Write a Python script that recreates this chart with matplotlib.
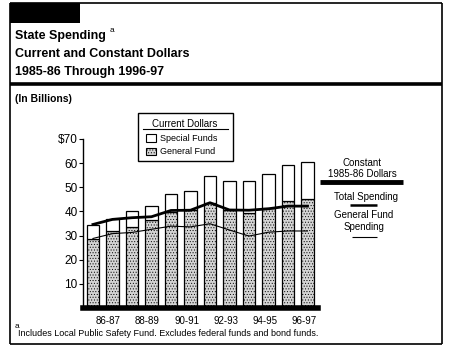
import matplotlib
matplotlib.use("Agg")
import matplotlib.pyplot as plt
from matplotlib.lines import Line2D
from matplotlib.patches import Rectangle
import numpy as np

plt.rcParams['font.family'] = ['Liberation Sans', 'DejaVu Sans']
plt.rcParams['hatch.linewidth'] = 0.4

years = ["85-86", "86-87", "87-88", "88-89", "89-90", "90-91",
         "91-92", "92-93", "93-94", "94-95", "95-96", "96-97"]
general_fund = [28.7, 31.9, 33.4, 36.4, 39.7, 40.5, 43.6, 40.7, 39.2, 41.5, 44.3, 45.0]
total_current = [34.2, 36.9, 40.1, 42.1, 47.2, 48.5, 54.5, 52.4, 52.4, 55.4, 59.2, 60.3]
special_funds = [t - g for t, g in zip(total_current, general_fund)]
constant_total = [34.6, 36.7, 37.4, 37.8, 40.4, 40.5, 43.6, 40.6, 40.5, 41.1, 42.2, 42.2]
constant_gf = [28.8, 30.8, 31.3, 32.6, 33.9, 33.6, 34.9, 32.3, 29.8, 31.4, 31.9, 31.9]
yticks = [10, 20, 30, 40, 50, 60, 70]
ytick_labels = ["10", "20", "30", "40", "50", "60", "$70"]
xtick_labels = ["86-87", "88-89", "90-91", "92-93", "94-95", "96-97"]

W, H = 451, 350
fig = plt.figure(figsize=(W / 100, H / 100), dpi=100)

def fx(px):
    return px / W

def fy(py):
    return 1 - py / H

# frame
fig.add_artist(Rectangle((fx(10), fy(23)), fx(70), 20 / H, transform=fig.transFigure,
                         facecolor='black', edgecolor='none'))
for (x0, y0, x1, y1, lw) in [(10, 3, 442, 3, 1.2), (442, 3, 442, 344, 1.2),
                              (10, 344, 442, 344, 1.2), (10, 3, 10, 344, 1.2),
                              (10, 84, 442, 84, 2.6)]:
    fig.add_artist(Line2D([fx(x0), fx(x1)], [fy(y0), fy(y1)], color='black', lw=lw,
                          transform=fig.transFigure, solid_capstyle='butt'))

# titles
tkw = dict(fontsize=9, fontweight='bold', ha='left', va='center', transform=fig.transFigure)
fig.text(fx(15), fy(36), "State Spending", **tkw)
fig.text(fx(110), fy(31), "a", fontsize=6, ha='left', va='center', transform=fig.transFigure)
fig.text(fx(15), fy(54), "Current and Constant Dollars", **tkw)
fig.text(fx(15), fy(72), "1985-86 Through 1996-97", **tkw)
fig.text(fx(15), fy(99), "(In Billions)", fontsize=7.5, fontweight='bold', ha='left',
         va='center', transform=fig.transFigure)

# axes
ax = fig.add_axes([fx(83), fy(308), fx(318) - fx(83), (308 - 139) / H])
x = np.arange(len(years))
ax.bar(x, general_fund, width=0.63, facecolor='#d4d4d4', edgecolor='black', hatch='......',
       linewidth=0.9, zorder=2)
ax.bar(x, special_funds, bottom=general_fund, width=0.63, facecolor='white',
       edgecolor='black', linewidth=0.9, zorder=2)
ax.plot(x, constant_total, color='black', lw=2.0, zorder=3)
ax.plot(x, constant_gf, color='black', lw=0.8, zorder=3)
ax.set_xlim(-0.51, 11.54)
ax.set_ylim(0, 70)
ax.axhline(0, color='black', lw=4, zorder=4, clip_on=False)
for s in ['top', 'right', 'bottom']:
    ax.spines[s].set_visible(False)
ax.spines['left'].set_linewidth(1.0)
ax.set_yticks(yticks)
ax.set_yticklabels(ytick_labels, fontsize=8.5)
ax.tick_params(axis='y', length=3, width=0.8, pad=1)
ax.set_xticks(x[1::2] - 0.2)
ax.set_xticklabels(xtick_labels, fontsize=7)
ax.tick_params(axis='x', length=0, pad=6)

# legend box
fig.add_artist(Rectangle((fx(138), fy(161)), fx(233) - fx(138), (161 - 113) / H,
                         transform=fig.transFigure, facecolor='white', edgecolor='black',
                         lw=1.0, zorder=5))
fig.text(fx(185), fy(124), "Current Dollars", fontsize=7, ha='center', va='center',
         transform=fig.transFigure, zorder=6)
fig.add_artist(Line2D([fx(143), fx(228)], [fy(129), fy(129)], color='black', lw=0.8,
                      transform=fig.transFigure, zorder=6))
fig.add_artist(Rectangle((fx(146), fy(142)), 10 / W, 8 / H, transform=fig.transFigure,
                         facecolor='white', edgecolor='black', lw=0.8, zorder=6))
fig.text(fx(160), fy(138), "Special Funds", fontsize=6.5, ha='left', va='center',
         transform=fig.transFigure, zorder=6)
fig.add_artist(Rectangle((fx(146), fy(155)), 10 / W, 7 / H, transform=fig.transFigure,
                         facecolor='#d4d4d4', edgecolor='black', hatch='......', lw=0.8,
                         zorder=6))
fig.text(fx(160), fy(152), "General Fund", fontsize=6.5, ha='left', va='center',
         transform=fig.transFigure, zorder=6)

# right annotations
akw = dict(fontsize=7, ha='center', va='center', transform=fig.transFigure)
fig.text(fx(362), fy(163), "Constant", **akw)
fig.text(fx(362), fy(174), "1985-86 Dollars", **akw)
fig.add_artist(Line2D([fx(320), fx(403)], [fy(182), fy(182)], color='black', lw=3.5,
                      transform=fig.transFigure, solid_capstyle='butt'))
fig.text(fx(366), fy(197), "Total Spending", **akw)
fig.add_artist(Line2D([fx(350), fx(377)], [fy(205), fy(205)], color='black', lw=1.8,
                      transform=fig.transFigure, solid_capstyle='butt'))
fig.text(fx(364), fy(215), "General Fund", **akw)
fig.text(fx(364), fy(227), "Spending", **akw)
fig.add_artist(Line2D([fx(352), fx(377)], [fy(237), fy(237)], color='black', lw=0.8,
                      transform=fig.transFigure, solid_capstyle='butt'))

# footnote
fig.text(fx(15), fy(327), "a", fontsize=6, ha='left', va='center', transform=fig.transFigure)
fig.text(fx(18), fy(334), "Includes Local Public Safety Fund. Excludes federal funds and bond funds.",
         fontsize=6.5, ha='left', va='center', transform=fig.transFigure)

fig.savefig("out.png", dpi=100)
